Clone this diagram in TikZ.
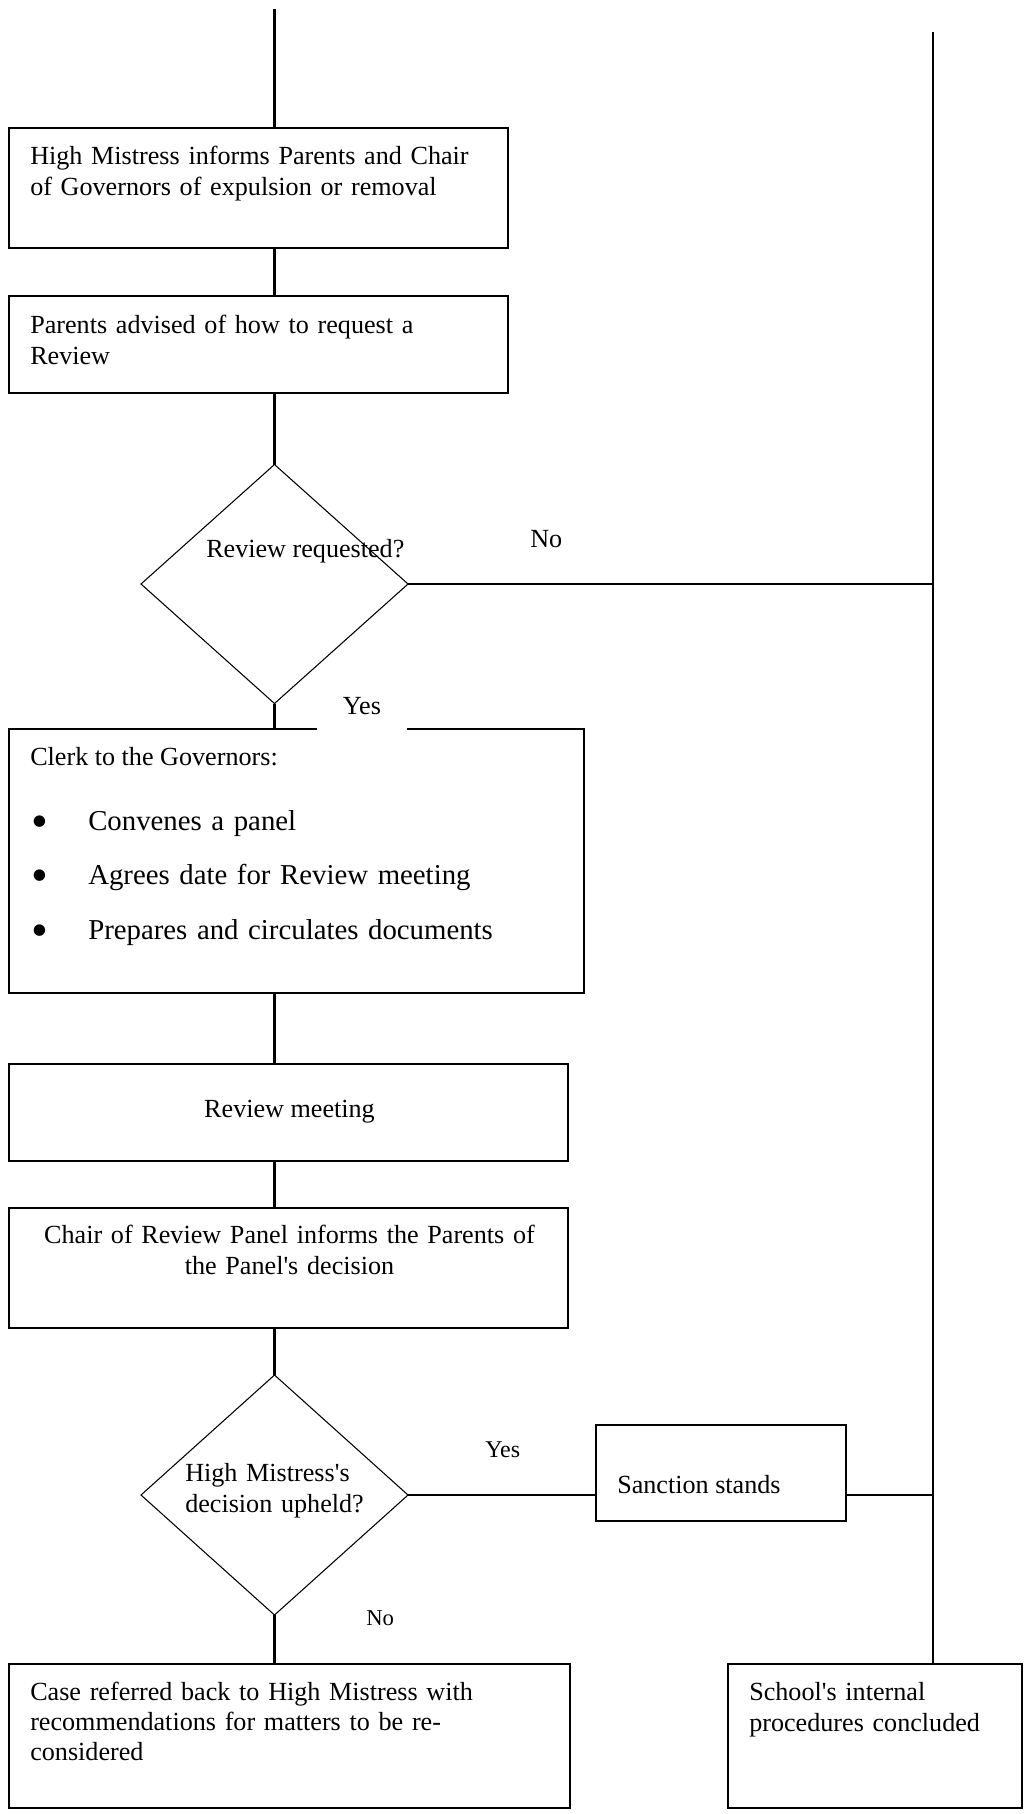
\documentclass[tikz,border=0pt]{standalone}
\usepackage{fontspec}
\setmainfont{Liberation Serif}
\usetikzlibrary{shapes.geometric}
\newcommand{\bigbul}{\makebox[42.75pt][l]{\fontsize{36}{36}\selectfont\raisebox{-5.5pt}{•}}}
\begin{document}
\begin{tikzpicture}[x=0.75pt,y=-0.75pt,
  conn/.style={line width=2pt},
  box/.style={draw, line width=1.3pt, rectangle, inner sep=0pt, outer sep=0pt},
  dec/.style={draw, line width=0.8pt, diamond, inner sep=0pt, outer sep=0pt,
    minimum width=200.25pt, minimum height=179.25pt},
  txt/.style={inner sep=0pt, anchor=base west, text width=#1, align=left,
    font=\fontsize{19.6}{23.25}\selectfont},
  txt/.default=350pt,
  lbl/.style={inner sep=0pt, anchor=base west, font=\fontsize{19.6}{24}\selectfont}]
\useasboundingbox (0,0) rectangle (1026,1814);

% boxes
\node[box, minimum width=374.25pt, minimum height=90pt] (b1) at (258.5,188) {};
\node[box, minimum width=374.25pt, minimum height=72.75pt] (b2) at (258.5,344.5) {};
\node[dec] (d1) at (274.5,584) {};
\node[box, minimum width=431.25pt, minimum height=198pt] (clerk) at (296.5,861) {};
\node[box, minimum width=419.25pt, minimum height=72.75pt] (rm) at (288.5,1112.5) {};
\node[box, minimum width=419.25pt, minimum height=90pt] (chair) at (288.5,1268) {};
\node[dec, minimum height=180pt] (d2) at (274.5,1495) {};
\node[box, minimum width=187.5pt, minimum height=72pt] (sanc) at (721,1473) {};
\node[box, minimum width=420.75pt, minimum height=108pt] (case) at (289.5,1736) {};
\node[box, minimum width=220.5pt, minimum height=108pt] (school) at (875,1736) {};

% connectors
\coordinate (ltop) at (274.5,9);
\coordinate (rtop) at (933,32);
\draw[conn] (ltop) -- (ltop |- b1.north);
\draw[conn] (b1.south -| ltop) -- (b2.north -| ltop);
\draw[conn] (b2.south -| ltop) -- (d1.north);
\draw[conn] (d1.east) -- (rtop |- d1.east);
\draw[conn] (d1.south) -- (clerk.north -| d1.south);
\draw[conn] (clerk.south -| ltop) -- (rm.north -| ltop);
\draw[conn] (rm.south -| ltop) -- (chair.north -| ltop);
\draw[conn] (chair.south -| ltop) -- (d2.north);
\draw[conn] (d2.east) -- (sanc.west |- d2.east);
\draw[conn] (sanc.east |- d2.east) -- (rtop |- d2.east);
\draw[conn] (d2.south) -- (case.north -| d2.south);
\draw[conn] (rtop) -- (school.north -| rtop);

% texts
\node[txt] (t1) at (30,164) {High Mistress informs Parents and Chair\\of Governors of expulsion or removal};
\node[txt] (t2) at (30,333) {Parents advised of how to request a\\Review};
\node[lbl] (td1) at (206,557) {Review requested?};
\node[lbl] (no1) at (530,547) {No};
\node[inner sep=0pt, fill=white, anchor=south, minimum width=67.5pt,
  text height=14pt, text depth=12pt, font=\fontsize{19.6}{24}\selectfont] (yes1) at (362,731) {Yes};
\node[lbl] (tclerk) at (30,765) {Clerk to the Governors:};
\node[txt=400pt, font=\fontsize{21.6}{40.875}\selectfont] (tbul) at (31,830)
  {\bigbul Convenes a panel\\
   \bigbul Agrees date for Review meeting\\
   \bigbul Prepares and circulates documents};
\node[lbl, anchor=base] (trm) at (289.5,1117) {Review meeting};
\node[txt=420pt, align=center, anchor=base] (tchair) at (289.5,1243)
  {Chair of Review Panel informs the Parents of\\the Panel\textquotesingle s decision};
\node[txt=150pt] (td2) at (185,1481) {High Mistress\textquotesingle s\\decision upheld?};
\node[lbl, font=\fontsize{18}{22}\selectfont] (yes2) at (485,1457) {Yes};
\node[lbl, font=\fontsize{17}{20}\selectfont] (no2) at (366,1625) {No};
\node[lbl] (tsanc) at (617,1493) {Sanction stands};
\node[txt, font=\fontsize{19.6}{22.5}\selectfont] (tcase) at (30,1700)
  {Case referred back to High Mistress with\\recommendations for matters to be re-\\considered};
\node[txt=200pt] (tschool) at (749,1700) {School\textquotesingle s internal\\procedures concluded};
\end{tikzpicture}
\end{document}
